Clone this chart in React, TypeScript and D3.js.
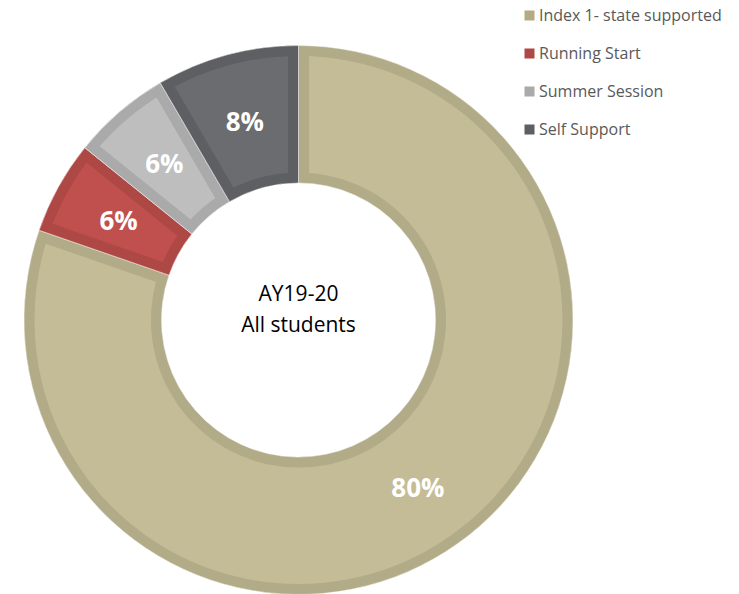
import React from "react";
import * as d3 from "d3";

const categories = ["Index 1- state supported", "Running Start", "Summer Session", "Self Support"];
const values = [80.3, 5.5, 5.8, 8.4];
const labels = ["80%", "6%", "6%", "8%"];
const fills = ["#c4bc96", "#c0504d", "#bebebe", "#6b6c6f"];
const borders = ["#b2ab88", "#ad4845", "#aaaaaa", "#5e5f62"];
const centerLines = ["AY19-20", "All students"];

const W = 739;
const H = 594;
const cx = 298.5;
const cy = 320;
const rOuter = 274.5;
const rInner = 137;
const font = "'Open Sans', sans-serif";

export default function App() {
  const pie = d3.pie<number>().sort(null).value((d) => d)(values);
  const arc = d3.arc<d3.PieArcDatum<number>>().innerRadius(rInner).outerRadius(rOuter);
  const labelArc = d3
    .arc<d3.PieArcDatum<number>>()
    .innerRadius((rInner + rOuter) / 2)
    .outerRadius((rInner + rOuter) / 2);
  const legendY = d3.scaleBand<string>().domain(categories).range([0, 152]);

  return (
    <svg
      width={W}
      height={H}
      style={{ position: "absolute", left: 0, top: 0, background: "#fff" }}
    >
      <defs>
        {pie.map((p, i) => (
          <clipPath id={`clip${i}`} key={i}>
            <path d={arc(p) || ""} />
          </clipPath>
        ))}
      </defs>
      <g transform={`translate(${cx},${cy})`}>
        {pie.map((p, i) => (
          <g key={i}>
            <path d={arc(p) || ""} fill={fills[i]} />
            <path
              d={arc(p) || ""}
              fill="none"
              stroke={borders[i]}
              strokeWidth={21}
              clipPath={`url(#clip${i})`}
            />
            <path d={arc(p) || ""} fill="none" stroke="#ffffff" strokeOpacity={0.55} strokeWidth={1} />
          </g>
        ))}
        {pie.map((p, i) => {
          const [x, y] = labelArc.centroid(p);
          return (
            <text
              key={i}
              x={x}
              y={y}
              dy="0.36em"
              textAnchor="middle"
              fill="#ffffff"
              fontFamily={font}
              fontWeight={700}
              fontSize={26}
            >
              {labels[i]}
            </text>
          );
        })}
        {centerLines.map((t, i) => (
          <text
            key={t}
            x={0}
            y={-19 + i * 31}
            textAnchor="middle"
            fill="#000000"
            fontFamily={font}
            fontSize={21}
          >
            {t}
          </text>
        ))}
      </g>
      <g transform="translate(524.5,10.5)">
        {categories.map((c, i) => (
          <g key={c} transform={`translate(0,${legendY(c)})`}>
            <rect width={10} height={10} fill={borders[i]} />
            <text x={14.5} y={10.5} fill="#595959" fontFamily={font} fontSize={16}>
              {c}
            </text>
          </g>
        ))}
      </g>
    </svg>
  );
}
